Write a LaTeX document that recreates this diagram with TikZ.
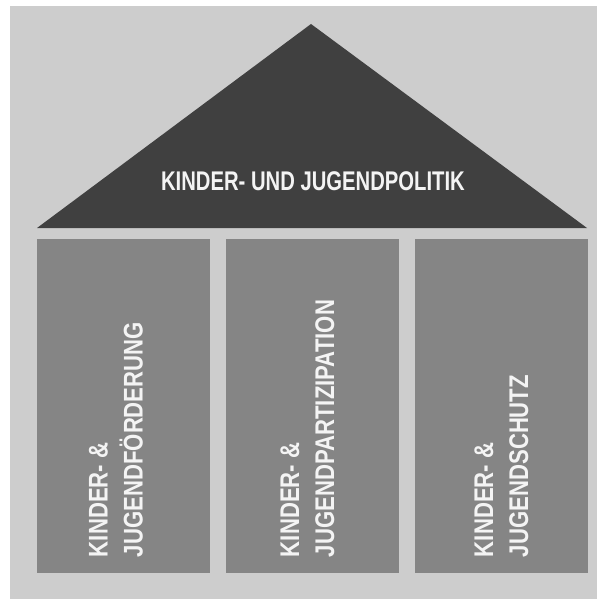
\documentclass[tikz,border=0pt]{standalone}
\usepackage{fontspec}
\newfontfamily\rooffont[FakeStretch=0.75]{Liberation Sans Bold}
\newfontfamily\pillarfont[FakeStretch=0.82]{Liberation Sans Bold}
\definecolor{wallgray}{HTML}{CDCDCD}
\definecolor{roofgray}{HTML}{404040}
\definecolor{pillargray}{HTML}{858585}
\definecolor{lettering}{HTML}{F4F4F4}

\newcommand{\pillarlabel}[2]{ node[pillartext] (#1) { #2 } }

\begin{document}
\begin{tikzpicture}[x=1pt,y=-1pt,every node/.style = {inner sep=0pt, outer sep=0pt}]
		\tikzset{
			pillar/.style = { fill=pillargray, minimum width=173pt, minimum height=334pt },
			pillartext/.style = { text=lettering, rotate=90, anchor=west, align=left,
				font=\pillarfont\fontsize{27}{35}\selectfont },
			rooftext/.style = { text=lettering, anchor=base, font=\rooffont\fontsize{27}{30}\selectfont },
		}
		\useasboundingbox (0,0) rectangle (597,599);
		\fill[wallgray] (10,6) rectangle (597,599);
		% roof
		\coordinate (eaveleft) at (37,228);
		\coordinate (eaveright) at (587,228);
		\coordinate (ridge) at (311,24);
		\fill[roofgray] (eaveleft) -- (ridge) -- (eaveright) -- cycle;
		\node[rooftext] (politik) at (313,190) {KINDER- UND JUGENDPOLITIK};
		% pillars
		\node[pillar] (foerderung) at (123.5,406) {};
		\node[pillar] (partizipation) at (312.5,406) {};
		\node[pillar] (schutz) at (501.5,406) {};
		\path (116,557) \pillarlabel{foerderungtext}{KINDER- \&\\JUGENDFÖRDERUNG};
		\path (307.5,557) \pillarlabel{partizipationtext}{KINDER- \&\\JUGENDPARTIZIPATION};
		\path (501.5,557) \pillarlabel{schutztext}{KINDER- \&\\JUGENDSCHUTZ};
\end{tikzpicture}
\end{document}
